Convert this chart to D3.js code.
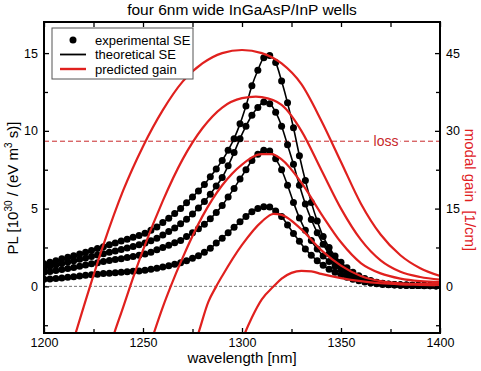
<!DOCTYPE html>
<html>
<head>
<meta charset="utf-8">
<script src="https://cdn.jsdelivr.net/npm/d3@7"></script>
<style>
  body { margin: 0; background: #fff; }
  svg { font-family: "Liberation Sans", Arial, sans-serif; }
</style>
</head>
<body>
<div id="chart"></div>
<script>
// wavelength grid of the measured spectra [nm]
const wavelengths = [1200,1203,1206,1209,1212,1215,1218,1221,1224,1227,1230,1233,1236,1239,1242,1245,1248,1251,1254,1257,1260,1263,1266,1269,1272,1275,1278,1281,1284,1287,1290,1293,1296,1299,1302,1305,1308,1311,1314,1317,1320,1323,1326,1329,1332,1335,1338,1341,1344,1347,1350,1353,1356,1359,1362,1365,1368,1371,1374,1377,1380,1383,1386,1389,1392,1395,1398];

// spontaneous emission, 10^30 / (eV m^3 s), four pump levels
const se1 = [1.45,1.55,1.65,1.77,1.87,1.97,2.08,2.19,2.31,2.43,2.55,2.67,2.79,2.91,3.03,3.15,3.27,3.42,3.6,3.82,4.1,4.38,4.68,5.0,5.38,5.75,6.13,6.55,7.05,7.55,8.1,8.75,9.5,10.45,11.6,12.9,13.9,14.7,14.85,14.4,13.2,11.8,10.2,8.4,6.8,5.4,4.2,3.2,2.5,1.95,1.55,1.2,0.9,0.68,0.5,0.37,0.27,0.2,0.15,0.12,0.1,0.08,0.07,0.06,0.05,0.05,0.04];
const se2 = [1.2,1.29,1.38,1.47,1.56,1.65,1.74,1.83,1.92,2.01,2.1,2.19,2.28,2.37,2.47,2.57,2.67,2.78,2.93,3.1,3.3,3.52,3.76,4.02,4.32,4.66,5.04,5.45,5.93,6.45,7.0,7.75,8.6,9.5,10.3,11.0,11.5,11.85,11.75,11.2,10.3,9.1,7.85,6.5,5.3,4.3,3.45,2.7,2.1,1.65,1.3,1.0,0.76,0.57,0.43,0.32,0.24,0.18,0.14,0.11,0.09,0.08,0.07,0.06,0.05,0.05,0.04];
const se3 = [0.9,0.96,1.02,1.08,1.15,1.22,1.3,1.37,1.45,1.52,1.6,1.66,1.72,1.78,1.85,1.92,2.0,2.08,2.2,2.35,2.5,2.65,2.8,2.95,3.2,3.45,3.7,4.0,4.35,4.75,5.2,5.75,6.3,6.9,7.5,8.1,8.5,8.75,8.7,8.2,7.5,6.5,5.4,4.4,3.6,2.95,2.4,1.95,1.6,1.3,1.05,0.82,0.64,0.49,0.37,0.28,0.21,0.16,0.12,0.1,0.08,0.07,0.06,0.05,0.05,0.04,0.04];
const se4 = [0.45,0.48,0.51,0.54,0.58,0.62,0.66,0.71,0.75,0.78,0.82,0.85,0.88,0.91,0.94,0.97,0.99,1.03,1.1,1.17,1.25,1.33,1.42,1.52,1.65,1.8,1.97,2.2,2.45,2.78,3.1,3.45,3.8,4.15,4.5,4.8,5.0,5.12,5.1,4.85,4.5,3.95,3.4,2.9,2.4,2.0,1.65,1.35,1.1,0.9,0.73,0.58,0.46,0.36,0.28,0.21,0.16,0.12,0.1,0.08,0.07,0.06,0.05,0.05,0.04,0.04,0.03];
const seSeries = [se1, se2, se3, se4];

// predicted modal gain [1/cm]
const gain1Wl = [1210,1216,1220,1230,1240,1250,1260,1270,1280,1290,1300,1310,1320,1330,1340,1350,1360,1370,1380,1390,1400];
const gain1 = [-17,-9,-4,8,18.5,27,34,39.5,43,45,45.6,45,43,39,32,24,16,10,6,3.5,2];
const gain2Wl = [1228,1235.5,1240,1243.5,1250,1260,1270,1280,1290,1300,1307,1310,1320,1330,1340,1350,1360,1370,1380,1390,1400];
const gain2 = [-18,-9,-4,0,7,16.5,24.5,30.5,34.5,36.3,36.6,36.5,35,30,22.5,15,9,5,2.8,1.8,1.3];
const gain3Wl = [1248,1255.5,1260,1264,1270,1280,1290,1300,1310,1315,1320,1330,1340,1350,1360,1370,1380,1390,1400];
const gain3 = [-18,-9,-4,0,5.5,13.5,19.5,23.5,25.5,25.5,24.5,20,14,8.5,4.5,2.5,1.5,1,0.8];
const gain4Wl = [1270,1278,1283,1287,1290,1300,1310,1316,1320,1330,1340,1350,1360,1370,1380,1390,1400];
const gain4 = [-18,-9,-3,0,2,8,12.5,14,13.8,11,7,4,2,1,0.6,0.5,0.5];
const gain5Wl = [1295,1301.5,1305,1310,1316,1320,1325,1330,1335,1340,1350,1360,1370,1380,1390,1400];
const gain5 = [-16,-9,-6,-2.5,0,1.5,2.6,3,2.9,2.4,1.6,1,0.6,0.4,0.3,0.2];
const gainSeries = [
  [gain1Wl, gain1], [gain2Wl, gain2], [gain3Wl, gain3], [gain4Wl, gain4], [gain5Wl, gain5]
];

const lossLevel = 28;

const xTicks = [1200, 1250, 1300, 1350, 1400];
const xMinor = [1225, 1275, 1325, 1375];
const yLeftTicks = [0, 5, 10, 15];
const yLeftMinor = [-2.5, 2.5, 7.5, 12.5];
const yRightTicks = [0, 15, 30, 45];
const yRightMinor = [-7.5, 7.5, 22.5, 37.5];

const legendItems = ["experimental SE", "theoretical SE", "predicted gain"];

const w = 481, h = 371;
const pL = 44, pR = 440, pT = 22, pB = 333;
const red = "#e0201e";

const svg = d3.select("#chart").append("svg").attr("width", w).attr("height", h);

const x = d3.scaleLinear().domain([1200, 1400]).range([pL, pR]);
const yL = d3.scaleLinear().domain([-3, 17]).range([pB, pT]);
const yR = d3.scaleLinear().domain([-9, 51]).range([pB, pT]);

svg.append("clipPath").attr("id", "clip")
  .append("rect").attr("x", pL).attr("y", pT)
  .attr("width", pR - pL).attr("height", pB - pT);

const plot = svg.append("g").attr("clip-path", "url(#clip)");

// zero line
plot.append("line")
  .attr("x1", pL).attr("x2", pR)
  .attr("y1", yL(0)).attr("y2", yL(0))
  .attr("stroke", "#333").attr("stroke-width", 0.7)
  .attr("stroke-dasharray", "3,2");

// loss line
plot.append("line")
  .attr("x1", pL).attr("x2", pR)
  .attr("y1", yR(lossLevel)).attr("y2", yR(lossLevel))
  .attr("stroke", "#c8282a").attr("stroke-width", 1)
  .attr("stroke-dasharray", "5,3");

// theoretical SE lines
const seLine = d3.line()
  .x((d, i) => x(wavelengths[i]))
  .y((d) => yL(d))
  .curve(d3.curveMonotoneX);

seSeries.forEach((s) => {
  plot.append("path").datum(s)
    .attr("d", seLine)
    .attr("fill", "none")
    .attr("stroke", "#000")
    .attr("stroke-width", 1.6);
});

// experimental SE dots
seSeries.forEach((s) => {
  plot.append("g").selectAll("circle")
    .data(s)
    .enter()
    .append("circle")
    .attr("cx", (d, i) => x(wavelengths[i]))
    .attr("cy", (d) => yL(d))
    .attr("r", 3.5)
    .attr("fill", "#000");
});

// predicted gain curves
const gainLine = d3.line()
  .x((d) => x(d[0]))
  .y((d) => yR(d[1]))
  .curve(d3.curveMonotoneX);

gainSeries.forEach((g) => {
  const pts = g[0].map((wl, i) => [wl, g[1][i]]);
  plot.append("path").datum(pts)
    .attr("d", gainLine)
    .attr("fill", "none")
    .attr("stroke", red)
    .attr("stroke-width", 2.2);
});

// loss label
const lossText = svg.append("text")
  .attr("x", 386).attr("y", yR(lossLevel) + 5)
  .attr("text-anchor", "middle")
  .attr("font-size", 14)
  .attr("fill", "#c8282a")
  .text("loss");
const bb = lossText.node().getBBox();
svg.insert("rect", "text")
  .attr("x", bb.x - 2).attr("y", bb.y + 2)
  .attr("width", bb.width + 4).attr("height", bb.height - 4)
  .attr("fill", "#fff");

// axes
const xAxis = d3.axisBottom(x).tickValues(xTicks).tickSizeInner(-5).tickSizeOuter(0).tickPadding(5).tickFormat(d3.format("d"));
const xAxisMinor = d3.axisBottom(x).tickValues(xMinor).tickSizeInner(-4).tickSizeOuter(0).tickFormat("");
const xTop = d3.axisTop(x).tickValues(xTicks.concat(xMinor)).tickSizeInner(-5).tickSizeOuter(0).tickFormat("");
const yAxisL = d3.axisLeft(yL).tickValues(yLeftTicks).tickSizeInner(-5).tickSizeOuter(0).tickPadding(6);
const yAxisLMinor = d3.axisLeft(yL).tickValues(yLeftMinor).tickSizeInner(-4).tickSizeOuter(0).tickFormat("");
const yAxisR = d3.axisRight(yR).tickValues(yRightTicks).tickSizeInner(-5).tickSizeOuter(0).tickPadding(6);
const yAxisRMinor = d3.axisRight(yR).tickValues(yRightMinor).tickSizeInner(-4).tickSizeOuter(0).tickFormat("");

function styleAxis(g) {
  g.select(".domain").remove();
  g.selectAll("line").attr("stroke", "#000").attr("stroke-width", 1.3);
  g.selectAll("text").attr("font-size", 12.5).attr("fill", "#000")
    .attr("font-family", "Liberation Sans, Arial, sans-serif");
}

svg.append("g").attr("transform", "translate(0," + pB + ")").call(xAxis).call(styleAxis);
svg.append("g").attr("transform", "translate(0," + pB + ")").call(xAxisMinor).call(styleAxis);
svg.append("g").attr("transform", "translate(0," + pT + ")").call(xTop).call(styleAxis);
svg.append("g").attr("transform", "translate(" + pL + ",0)").call(yAxisL).call(styleAxis);
svg.append("g").attr("transform", "translate(" + pL + ",0)").call(yAxisLMinor).call(styleAxis);
svg.append("g").attr("transform", "translate(" + pR + ",0)").call(yAxisR).call(styleAxis);
svg.append("g").attr("transform", "translate(" + pR + ",0)").call(yAxisRMinor).call(styleAxis);

// frame
svg.append("rect")
  .attr("x", pL).attr("y", pT)
  .attr("width", pR - pL).attr("height", pB - pT)
  .attr("fill", "none").attr("stroke", "#000").attr("stroke-width", 2);

// title and labels
svg.append("text")
  .attr("x", 242).attr("y", 15)
  .attr("text-anchor", "middle").attr("font-size", 15.5)
  .text("four 6nm wide InGaAsP/InP wells");

svg.append("text")
  .attr("x", 242).attr("y", 363)
  .attr("text-anchor", "middle").attr("font-size", 15)
  .text("wavelength [nm]");

const yLab = svg.append("text")
  .attr("transform", "translate(18,188) rotate(-90)")
  .attr("text-anchor", "middle").attr("font-size", 15);
yLab.append("tspan").text("PL  [10");
yLab.append("tspan").attr("font-size", 10).attr("dy", -6).text("30");
yLab.append("tspan").attr("dy", 6).text(" / (eV m");
yLab.append("tspan").attr("font-size", 10).attr("dy", -6).text("3");
yLab.append("tspan").attr("dy", 6).text(" s)]");

svg.append("text")
  .attr("transform", "translate(465,190) rotate(90)")
  .attr("text-anchor", "middle").attr("font-size", 15)
  .attr("fill", red)
  .attr("xml:space", "preserve")
  .style("white-space", "pre")
  .text("modal gain  [1/cm]");

// legend
const legend = svg.append("g");
legend.append("rect")
  .attr("x", 52).attr("y", 28).attr("width", 141).attr("height", 51)
  .attr("fill", "#fff").attr("stroke", "#555").attr("stroke-width", 1);
const rowY = [40, 54.5, 69];
legend.append("circle").attr("cx", 73).attr("cy", rowY[0]).attr("r", 3.5).attr("fill", "#000");
legend.append("line").attr("x1", 60).attr("x2", 86).attr("y1", rowY[1]).attr("y2", rowY[1])
  .attr("stroke", "#000").attr("stroke-width", 1.8);
legend.append("line").attr("x1", 60).attr("x2", 86).attr("y1", rowY[2]).attr("y2", rowY[2])
  .attr("stroke", red).attr("stroke-width", 2.4);
legend.selectAll("text.lg")
  .data(legendItems)
  .enter()
  .append("text")
  .attr("class", "lg")
  .attr("x", 95)
  .attr("y", (d, i) => rowY[i] + 4.5)
  .attr("font-size", 13)
  .text((d) => d);
</script>
</body>
</html>
